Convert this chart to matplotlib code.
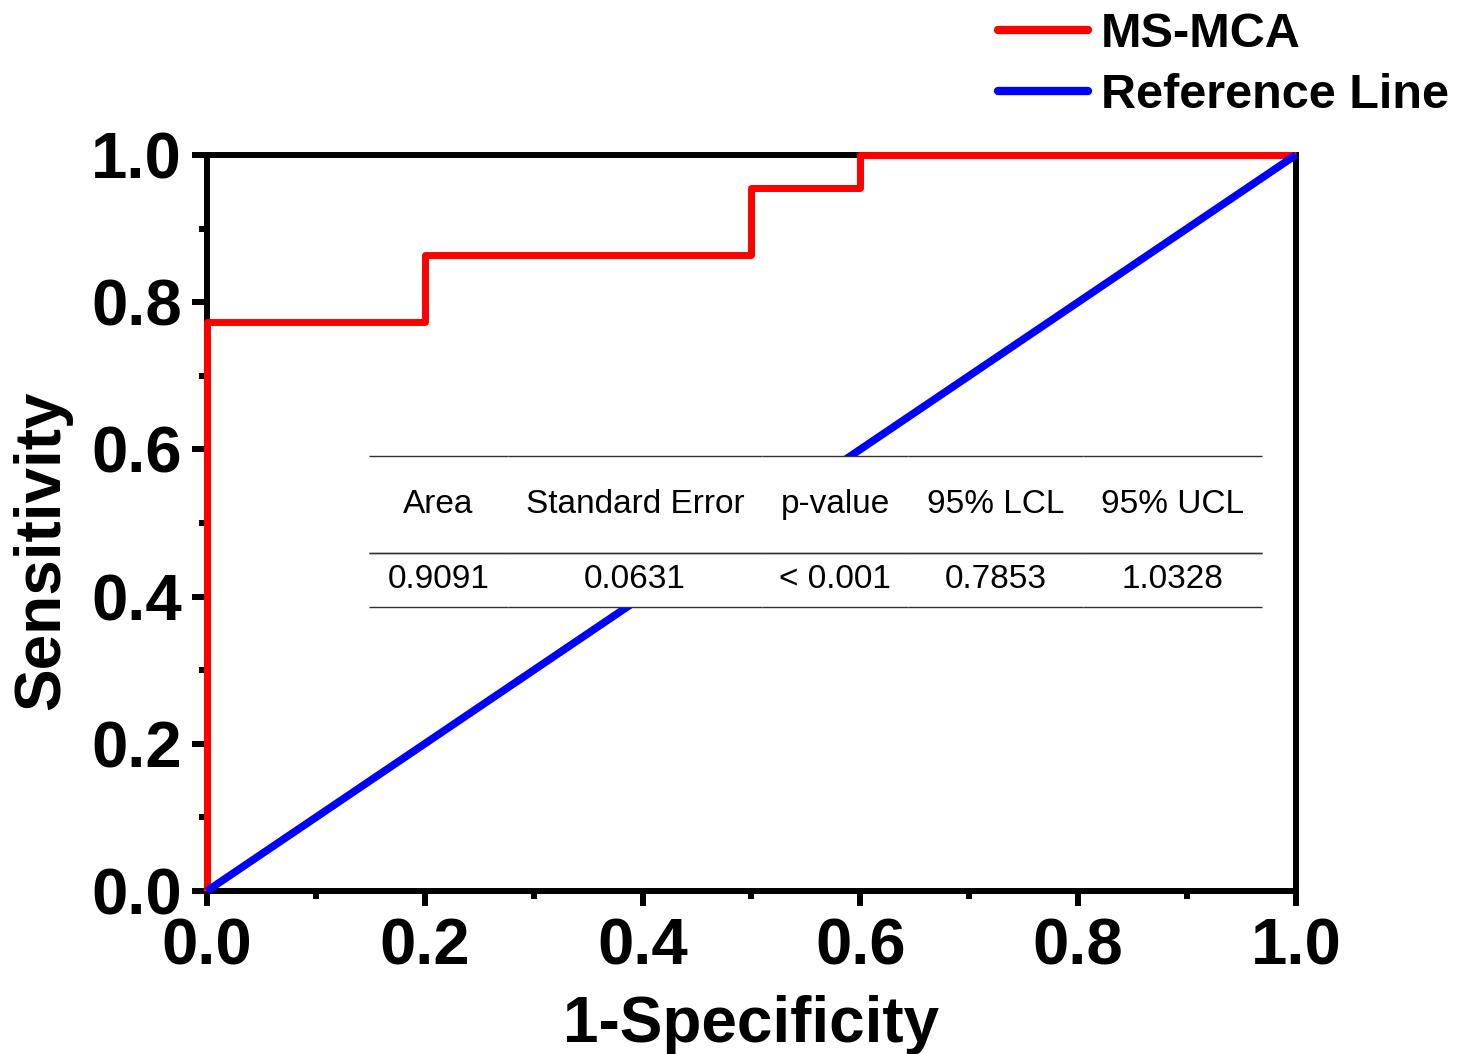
import matplotlib.pyplot as plt
import numpy as np
from matplotlib.ticker import MultipleLocator
from matplotlib.patches import Rectangle

plt.rcParams['font.family'] = ['Liberation Sans', 'DejaVu Sans']

# ROC points (steps)
fpr = [0.0, 0.0, 0.2, 0.2, 0.5, 0.5, 0.6, 0.6, 1.0]
tpr = [0.0, 0.7727, 0.7727, 0.8636, 0.8636, 0.9545, 0.9545, 1.0, 1.0]
ref_x = [0.0, 1.0]
ref_y = [0.0, 1.0]

col_labels = ['Area', 'Standard Error', 'p-value', '95% LCL', '95% UCL']
row_values = ['0.9091', '0.0631', '< 0.001', '0.7853', '1.0328']
col_widths = [139, 254, 146, 175, 179]
tick_labels = ['0.0', '0.2', '0.4', '0.6', '0.8', '1.0']

fig = plt.figure(figsize=(14.68, 10.54), dpi=100)
ax = fig.add_axes([0.141, 0.1547, 0.7418, 0.6983])

ax.plot(fpr, tpr, color='#ff0000', lw=5, label='MS-MCA', clip_on=False, zorder=4,
        solid_capstyle='butt')
ax.plot(ref_x, ref_y, color='#0000ff', lw=5.5, label='Reference Line', clip_on=False,
        zorder=5, solid_capstyle='butt')

ax.set_xlim(0, 1)
ax.set_ylim(0, 1)
ax.set_xticks(np.arange(0, 1.01, 0.2))
ax.set_xticklabels(tick_labels)
ax.set_yticks(np.arange(0, 1.01, 0.2))
ax.set_yticklabels(tick_labels)
ax.xaxis.set_minor_locator(MultipleLocator(0.1))
ax.yaxis.set_minor_locator(MultipleLocator(0.1))
ax.tick_params(which='major', direction='out', length=11, width=4.3, labelsize=47)
ax.tick_params(which='minor', direction='out', length=6, width=4.3)
ax.tick_params(axis='x', which='major', pad=8)
ax.tick_params(axis='y', which='major', pad=7)
for lab in ax.get_xticklabels() + ax.get_yticklabels():
    lab.set_fontweight('bold')
for sp in ax.spines.values():
    sp.set_linewidth(4.3)
    sp.set_zorder(3)

ax.set_xlabel('1-Specificity', fontsize=46, fontweight='bold')
ax.set_ylabel('Sensitivity', fontsize=46, fontweight='bold')
ax.xaxis.set_label_coords(0.5, -0.141)
ax.yaxis.set_label_coords(-0.124, 0.463)

leg = fig.legend(loc='upper right', bbox_to_anchor=(1.017, 1.03), frameon=False,
                 prop={'size': 35, 'weight': 'bold'}, handlelength=1.85,
                 handletextpad=0.27, labelspacing=0.33)
for h in leg.get_lines():
    h.set_linewidth(6)
    h.set_solid_capstyle('round')

# white box behind the stats table
tb = [0.1488, 0.3859, 0.82, 0.2051]
ax.add_patch(Rectangle((tb[0], tb[1]), tb[2], tb[3], transform=ax.transAxes,
                       facecolor='white', edgecolor='none', zorder=9))

total = sum(col_widths)
tbl = ax.table(cellText=[row_values], colLabels=col_labels,
               colWidths=[w / total for w in col_widths],
               cellLoc='center', edges='horizontal', bbox=tb)
tbl.auto_set_font_size(False)
tbl.set_fontsize(24)
tbl.set_zorder(10)
for (r, c), cell in tbl.get_celld().items():
    cell.set_edgecolor('#333333')
    cell.set_linewidth(1)
    if r == 0:
        cell.set_height(0.1318)
    else:
        cell.set_height(0.0733)

fig.savefig('out.png', dpi=100)
